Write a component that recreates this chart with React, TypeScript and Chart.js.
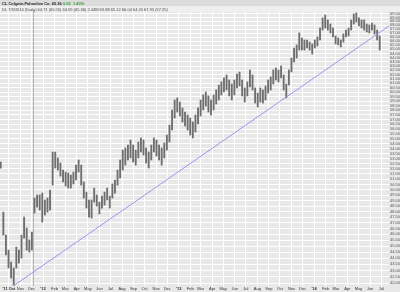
import { useEffect, useRef } from "react";
import { Chart, registerables } from "chart.js";

Chart.register(...registerables);

const TITLE = "CL Colgate-Palmolive Co. 65.36";
const TITLE_CHANGE = "0.92  1.43%";
const SUBTITLE = "DL 7/3/2014 (Daily) 64.71 (65.55) 64.59 (65.36) 2.44M 63.88 65.12 66.04 64.20 67.95 (57.25)";

const AXIS_START = "2011-09-07";
const AXIS_END = "2014-07-22";
const WEEK_START = "2011-09-09";
const MARKER_DATE = "2011-12-05";

const WEEK_HIGH = [
  52.66, 47.96, 45.94, 44.67, 43.68, 43.2, 44.92, 44.67, 45.94, 47.51,
  46.55, 45.52, 46.2, 49.23, 49.51, 49.51, 49.69, 49.05, 49.23, 49.97,
  53.65, 53.65, 53.06, 52.56, 51.87, 51.68, 51.58, 51.39, 51.68, 52.36,
  52.86, 52.36, 50.73, 49.78, 49.05, 49.05, 50.16, 49.51, 48.86, 49.41,
  49.78, 50.16, 49.41, 50.54, 50.92, 51.87, 52.86, 53.85, 54.06, 54.36,
  54.87, 54.36, 53.85, 54.66, 55.08, 54.87, 54.06, 53.65, 54.36, 55.08,
  54.87, 54.36, 54.06, 54.56, 55.38, 56.43, 58.04, 59.13, 59.36, 58.91,
  58.26, 57.82, 57.5, 57.17, 56.75, 57.5, 58.26, 59.13, 59.69, 60.02,
  59.58, 59.13, 59.69, 60.25, 60.81, 61.16, 61.62, 61.96, 61.39, 60.93,
  61.39, 62.08, 62.31, 61.39, 60.48, 61.16, 62.54, 61.96, 60.48, 59.91,
  60.48, 60.25, 60.7, 61.39, 61.73, 62.54, 62.78, 62.54, 63.01, 61.96,
  60.93, 62.54, 63.96, 65.17, 65.54, 67.02, 66.4, 66.15, 66.15, 65.9,
  65.66, 66.15, 66.52, 67.65, 68.93, 69.31, 68.67, 68.15, 67.65, 66.65,
  66.4, 66.15, 66.9, 67.4, 67.65, 68.67, 69.44, 69.57, 68.93, 68.67,
  68.67, 68.15, 68.03, 68.28, 68.03, 67.4, 66.65,
];

const WEEK_LOW = [
  52.07, 45.94, 44.26, 43.2, 42.4, 41.84, 43.2, 43.6, 44.01, 45.68,
  44.67, 44.5, 44.67, 47.87, 48.41, 48.14, 47.07, 47.69, 47.96, 48.14,
  50.44, 52.07, 51.87, 51.3, 50.73, 50.35, 50.16, 50.16, 50.54, 50.92,
  51.68, 50.44, 49.23, 48.32, 47.51, 47.43, 48.86, 48.5, 47.78, 48.32,
  48.59, 49.05, 48.32, 49.23, 49.69, 50.44, 51.11, 51.87, 52.36, 52.86,
  53.06, 52.66, 52.36, 53.06, 53.65, 53.35, 52.56, 52.07, 52.86, 53.65,
  53.25, 52.86, 52.36, 53.06, 53.85, 54.66, 55.91, 57.17, 57.82, 57.39,
  56.75, 56.33, 55.91, 55.38, 55.08, 55.7, 56.54, 57.39, 58.04, 58.47,
  57.82, 57.5, 58.04, 58.69, 59.13, 59.69, 60.02, 60.25, 59.58, 59.13,
  59.69, 60.48, 60.7, 59.58, 58.91, 59.58, 60.59, 60.25, 58.8, 58.36,
  58.91, 58.8, 59.13, 59.91, 60.25, 60.93, 61.39, 61.16, 61.62, 60.25,
  59.36, 60.81, 62.31, 63.48, 63.96, 64.92, 64.92, 64.92, 65.17, 64.92,
  64.44, 65.17, 65.41, 66.15, 67.4, 67.65, 67.4, 67.02, 66.52, 65.66,
  65.54, 65.29, 65.9, 66.52, 66.65, 67.4, 68.15, 68.41, 67.9, 67.65,
  67.4, 67.15, 67.02, 67.4, 66.9, 66.15, 64.92,
];

const TREND_DATES = ["2011-10-14", "2014-07-22"];
const TREND_VALUES = [41.8, 67.9];

const PRICE_TICKS = [
  42.0, 42.5, 43.0, 43.5, 44.0, 44.5, 45.0, 45.5, 46.0, 46.5,
  47.0, 47.5, 48.0, 48.5, 49.0, 49.5, 50.0, 50.5, 51.0, 51.5,
  52.0, 52.5, 53.0, 53.5, 54.0, 54.5, 55.0, 55.5, 56.0, 56.5,
  57.0, 57.5, 58.0, 58.5, 59.0, 59.5, 60.0, 60.5, 61.0, 61.5,
  62.0, 62.5, 63.0, 63.5, 64.0, 64.5, 65.0, 65.5, 66.0, 66.5,
  67.0, 67.5, 68.0, 68.5, 69.0, 69.5,
];

const MONTH_TICKS = [
  "2011-10", "2011-11", "2011-12",
  "2012-01", "2012-02", "2012-03", "2012-04", "2012-05", "2012-06",
  "2012-07", "2012-08", "2012-09", "2012-10", "2012-11", "2012-12",
  "2013-01", "2013-02", "2013-03", "2013-04", "2013-05", "2013-06",
  "2013-07", "2013-08", "2013-09", "2013-10", "2013-11", "2013-12",
  "2014-01", "2014-02", "2014-03", "2014-04", "2014-05", "2014-06", "2014-07",
];
const MONTH_NAMES = ["Jan", "Feb", "Mar", "Apr", "May", "Jun", "Jul", "Aug", "Sep", "Oct", "Nov", "Dec"];

const FONT = "'Liberation Sans', Arial, sans-serif";
const DAY = 86400000;
const day = (s: string) => (Date.parse(s) - Date.parse(AXIS_START)) / DAY;

const monthLabel = (m: string, i: number) => {
  const [y, mo] = m.split("-").map(Number);
  const yy = "'" + String(y).slice(2);
  if (i === 0) return yy + " " + MONTH_NAMES[mo - 1];
  return mo === 1 ? yy : MONTH_NAMES[mo - 1];
};

const decor = {
  id: "decor",
  beforeDraw(chart: any) {
    const { ctx, width, height } = chart;
    ctx.save();
    ctx.fillStyle = "#e8e8e8";
    ctx.fillRect(0, 0, width, height);
    ctx.fillStyle = "#dcdcdc";
    ctx.fillRect(0, 0, width, 6);
    ctx.fillStyle = "#efefef";
    ctx.fillRect(0, 6, width, 6);
    ctx.restore();
  },
  beforeDatasetsDraw(chart: any) {
    const { ctx, chartArea, scales } = chart;
    const x = Math.round(scales.x.getPixelForValue(day(MARKER_DATE))) + 0.5;
    ctx.save();
    ctx.strokeStyle = "#b4b4b4";
    ctx.lineWidth = 1;
    ctx.beginPath();
    ctx.moveTo(x, chartArea.top - 2);
    ctx.lineTo(x, chartArea.bottom);
    ctx.stroke();
    ctx.restore();
  },
  afterDraw(chart: any) {
    const { ctx } = chart;
    ctx.save();
    ctx.textBaseline = "alphabetic";
    ctx.font = `bold 4px ${FONT}`;
    ctx.fillStyle = "#222";
    ctx.fillText(TITLE, 2, 5);
    const w = ctx.measureText(TITLE + " ").width;
    ctx.fillStyle = "#2aa52a";
    ctx.fillText(TITLE_CHANGE, 2 + w, 5);
    ctx.font = `4px ${FONT}`;
    ctx.fillStyle = "#444";
    ctx.fillText(SUBTITLE, 2, 10.5);
    ctx.restore();
  },
};

export default function App() {
  const ref = useRef<HTMLCanvasElement>(null);

  useEffect(() => {
    document.body.style.margin = "0";
    const canvas = ref.current;
    if (!canvas) return;
    const w0 = day(WEEK_START);
    const bars = WEEK_HIGH.map((h, i) => ({ x: w0 + 7 * i, y: [WEEK_LOW[i], h] }));
    const trend = TREND_DATES.map((d, i) => ({ x: day(d), y: TREND_VALUES[i] }));
    const monthVals = MONTH_TICKS.map((m) => day(m + "-01"));
    const monthLabels = MONTH_TICKS.map(monthLabel);

    const chart = new Chart(canvas, {
      type: "bar",
      data: {
        datasets: [
          {
            type: "line",
            data: trend as any,
            borderColor: "#9b93f0",
            borderWidth: 1,
            pointRadius: 0,
            fill: false,
            order: 1,
          } as any,
          {
            type: "bar",
            data: bars as any,
            backgroundColor: "#6e6e6e",
            borderWidth: 0,
            barThickness: 1.2,
            grouped: false,
            order: 2,
          } as any,
        ],
      },
      options: {
        responsive: false,
        animation: false,
        devicePixelRatio: 1,
        layout: { padding: { top: 12, left: 0, right: 0, bottom: 0 } },
        plugins: { legend: { display: false }, tooltip: { enabled: false }, title: { display: false } },
        scales: {
          x: {
            type: "linear",
            min: 0,
            max: day(AXIS_END),
            offset: false,
            afterBuildTicks: (s: any) => {
              s.ticks = monthVals.map((v) => ({ value: v }));
            },
            afterFit: (s: any) => {
              s.height = 6;
            },
            ticks: {
              autoSkip: false,
              maxRotation: 0,
              minRotation: 0,
              padding: 0.5,
              color: "#333",
              font: (c: any) => ({
                size: 4,
                family: FONT,
                weight: monthLabels[c.index] && monthLabels[c.index].startsWith("'") ? "bold" : "normal",
              }),
              callback: (_v: any, i: number) => monthLabels[i],
            },
            grid: { color: "#ffffff", lineWidth: 1, offset: false, drawTicks: false },
            border: { display: false },
          },
          y: {
            type: "logarithmic",
            position: "right",
            min: 41.77,
            max: 69.7,
            afterBuildTicks: (s: any) => {
              s.ticks = PRICE_TICKS.map((v) => ({ value: v }));
            },
            afterFit: (s: any) => {
              s.width = 11;
            },
            ticks: {
              autoSkip: false,
              padding: 1,
              color: "#555",
              font: { size: 4, family: FONT },
              callback: (v: any) => Number(v).toFixed(2),
            },
            grid: { color: "#ffffff", lineWidth: 1, drawTicks: false },
            border: { display: false },
          },
        },
      } as any,
      plugins: [decor],
    });
    return () => chart.destroy();
  }, []);

  return (
    <div style={{ width: 400, height: 292 }}>
      <canvas ref={ref} width={400} height={292} style={{ display: "block" }} />
    </div>
  );
}
